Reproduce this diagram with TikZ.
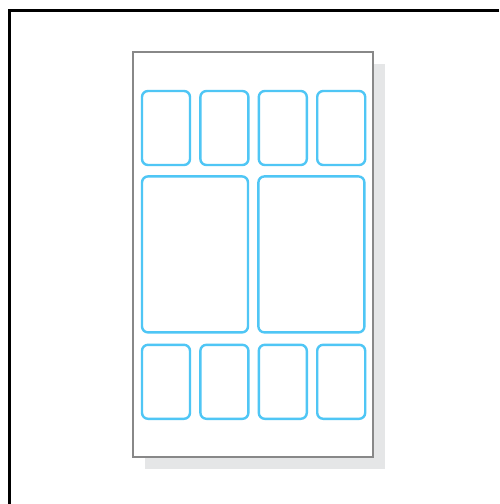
\documentclass[tikz,border=0pt]{standalone}
\usepackage{tikz}
\usetikzlibrary{positioning,shadows}
\definecolor{tileblue}{HTML}{4FC6F5}
\definecolor{phonegrey}{HTML}{888888}
\definecolor{shadowgrey}{HTML}{E5E6E7}

\begin{document}
\begin{tikzpicture}[x=1pt,y=-1pt,
  tile/.style={draw=tileblue,line width=2.4pt,rounded corners=6pt,minimum width=48pt,minimum height=74pt,inner sep=0pt},
  wide/.style={tile,minimum width=106pt,minimum height=156pt},
  phone/.style={draw=phonegrey,line width=2.8pt,fill=white,minimum width=240pt,minimum height=405pt,inner sep=0pt,
    drop shadow={shadow xshift=12pt,shadow yshift=-12pt,fill=shadowgrey,opacity=1}}]
  \useasboundingbox (0,0) rectangle (499,504);
  % outer frame, cut by the page on the right and bottom
  \draw[line width=3pt] (499,10) -| (9,504);
  \node[phone] (phone) at (253,254.5) {};
  % top row
  \node[tile] (t1) at (166,128) {};
  \node[tile,right=8pt of t1] (t2) {};
  \node[tile,right=8pt of t2] (t3) {};
  \node[tile,right=8pt of t3] (t4) {};
  % middle: two wide panels
  \node[wide,below right=9pt and 0pt of t1.south west] (w1) {};
  \node[wide,right=8pt of w1] (w2) {};
  % bottom row
  \node[tile,below right=10pt and 0pt of w1.south west] (b1) {};
  \node[tile,right=8pt of b1] (b2) {};
  \node[tile,right=8pt of b2] (b3) {};
  \node[tile,right=8pt of b3] (b4) {};
\end{tikzpicture}
\end{document}
